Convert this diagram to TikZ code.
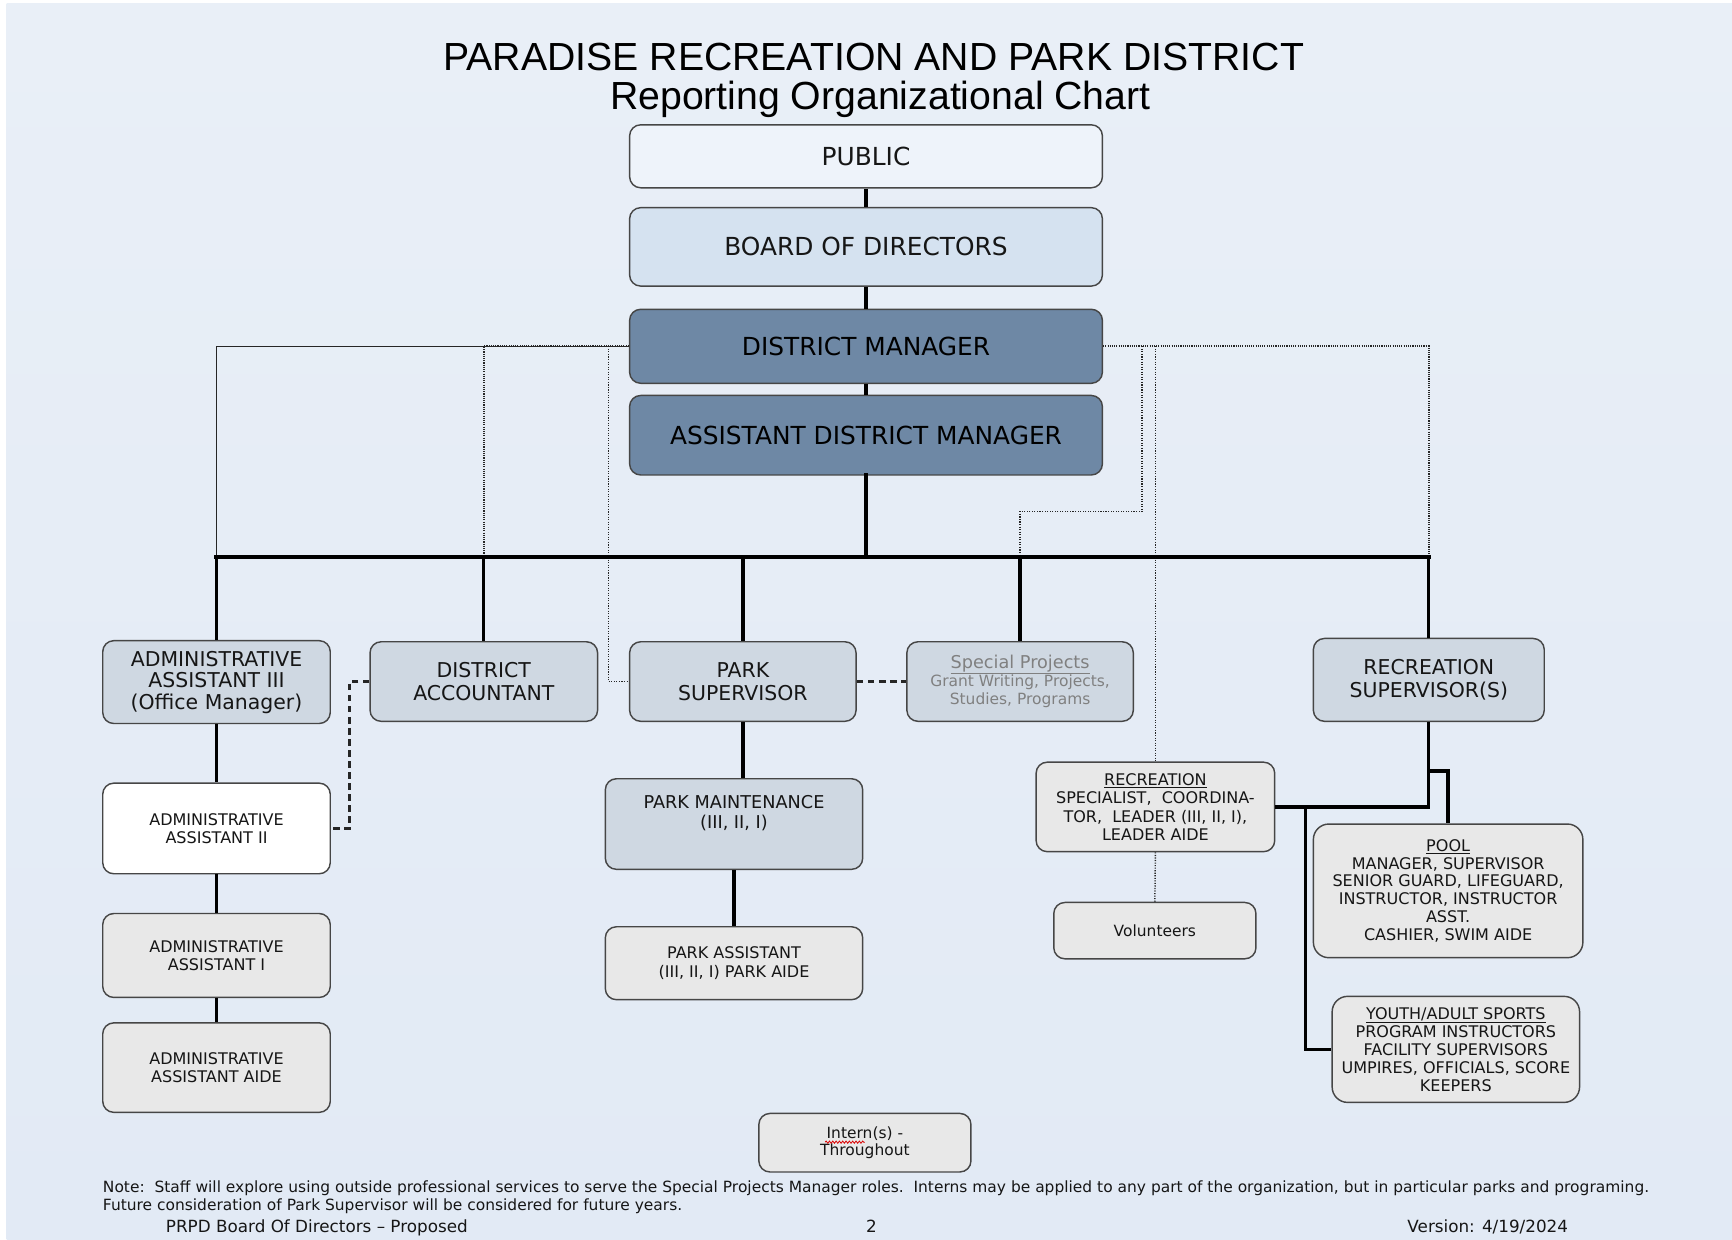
\documentclass[tikz,border=0pt]{standalone}
\usepackage{fontspec}
\setmainfont{DejaVu Sans}
\newfontfamily\titlefont{Liberation Sans}
\usetikzlibrary{decorations.pathmorphing}
\definecolor{bgtop}{RGB}{233,239,247}
\definecolor{bgmid}{RGB}{213,226,241}
\definecolor{bgbot}{RGB}{226,234,245}
\definecolor{boxline}{RGB}{70,70,70}
\definecolor{pubfill}{RGB}{238,243,250}
\definecolor{bodfill}{RGB}{213,226,240}
\definecolor{mgrfill}{RGB}{110,136,165}
\definecolor{lvlfill}{RGB}{207,216,226}
\definecolor{grayfill}{RGB}{232,232,232}
\definecolor{sptext}{RGB}{128,128,128}
\definecolor{textc}{RGB}{22,22,22}
\begin{document}
\begin{tikzpicture}[x=1pt,y=-1pt,
  box/.style={draw=boxline,line width=1.3pt,rounded corners=10pt,align=center,inner sep=2pt,text=textc},
  conn/.style={line width=3pt,black},
  busline/.style={line width=4pt,black,line cap=rect},
  dots/.style={line width=1.3pt,dash pattern=on 1pt off 1.3pt,black!85},
  densedots/.style={line width=1.5pt,dash pattern=on 1pt off 1pt,black!85},
  thinline/.style={line width=1pt,black!85},
  dashline/.style={line width=2pt,dash pattern=on 6pt off 4pt,black!85},
  bigtxt/.style={font=\fontsize{22.5}{26}\selectfont},
  midtxt/.style={font=\fontsize{18.5}{20.5}\selectfont},
  smtxt/.style={font=\fontsize{14.5}{16.6}\selectfont},
]
\useasboundingbox (0,0) rectangle (1568,1122);
\fill[white] (0,0) rectangle (1568,1122);
\shade[top color=bgtop,middle color=bgmid,bottom color=bgbot] (6,3) rectangle (1568,1122);

% title
\node[anchor=base,font=\titlefont\fontsize{35.5}{40}\selectfont] (title1) at (791,64) {PARADISE RECREATION AND PARK DISTRICT};
\node[anchor=base,font=\titlefont\fontsize{35.5}{40}\selectfont] (title2) at (797,99) {Reporting Organizational Chart};

% top boxes
\node[box,fill=pubfill,bigtxt,minimum width=428pt,minimum height=57pt] (pub) at (784,141.5) {PUBLIC};
\node[box,fill=bodfill,bigtxt,minimum width=428pt,minimum height=71pt] (bod) at (784,223.5) {BOARD OF DIRECTORS};
\node[box,fill=mgrfill,bigtxt,text=black,minimum width=428pt,minimum height=67pt] (dm) at (784,313.5) {DISTRICT MANAGER};
\node[box,fill=mgrfill,bigtxt,text=black,minimum width=428pt,minimum height=72pt] (adm) at (784,394) {ASSISTANT DISTRICT MANAGER};

% level 2
\node[box,fill=lvlfill,font=\fontsize{18.5}{19.5}\selectfont,minimum width=206pt,minimum height=75pt] (aa3) at (196,617.5) {ADMINISTRATIVE\\ASSISTANT III\\(Office Manager)};
\node[box,fill=lvlfill,midtxt,minimum width=206pt,minimum height=72pt] (da) at (438,617) {DISTRICT\\ACCOUNTANT};
\node[box,fill=lvlfill,midtxt,minimum width=205pt,minimum height=72pt] (ps) at (672.5,617) {PARK\\SUPERVISOR};
\node[box,fill=lvlfill,text=sptext,font=\fontsize{14}{16.5}\selectfont,minimum width=205pt,minimum height=72pt] (sp) at (923.5,617) {{\fontsize{16}{17}\selectfont\underline{Special Projects}}\\Grant Writing, Projects,\\Studies, Programs};
\node[box,fill=lvlfill,midtxt,minimum width=209pt,minimum height=75pt] (rs) at (1293.5,615.5) {RECREATION\\SUPERVISOR(S)};

% level 3 - admin column
\node[box,fill=white,smtxt,minimum width=206pt,minimum height=82pt] (aa2) at (196,750) {ADMINISTRATIVE\\ASSISTANT II};
\node[box,fill=grayfill,smtxt,minimum width=206pt,minimum height=76pt] (aa1) at (196,865) {ADMINISTRATIVE\\ASSISTANT I};
\node[box,fill=grayfill,smtxt,minimum width=206pt,minimum height=81pt] (aaa) at (196,966.5) {ADMINISTRATIVE\\ASSISTANT AIDE};

% park column
\node[box,fill=lvlfill,minimum width=233pt,minimum height=82pt] (pm) at (664.5,746) {};
\node[align=center,text=textc,font=\fontsize{16}{18}\selectfont] (pmtext) at (664.5,736) {PARK MAINTENANCE\\(III, II, I)};
\node[box,fill=grayfill,smtxt,minimum width=233pt,minimum height=66pt] (pa) at (664.5,872) {PARK ASSISTANT\\(III, II, I) PARK AIDE};

% recreation
\node[box,fill=grayfill,smtxt,minimum width=216pt,minimum height=81pt] (rec) at (1046,730.5) {\underline{RECREATION}\\SPECIALIST,~~COORDINA-\\TOR,~~LEADER (III, II, I),\\LEADER AIDE};
\node[box,fill=grayfill,font=\fontsize{14}{16}\selectfont,minimum width=183pt,minimum height=51pt] (vol) at (1045.5,842.5) {Volunteers};
\node[box,fill=grayfill,font=\fontsize{14.5}{16.2}\selectfont,minimum width=244pt,minimum height=121pt,rounded corners=14pt] (pool) at (1311,806.5) {\underline{POOL}\\MANAGER, SUPERVISOR\\SENIOR GUARD, LIFEGUARD,\\INSTRUCTOR, INSTRUCTOR\\ASST.\\CASHIER, SWIM AIDE};
\node[box,fill=grayfill,font=\fontsize{14.5}{16.3}\selectfont,minimum width=224pt,minimum height=96pt,rounded corners=14pt] (youth) at (1318,950) {\underline{YOUTH/ADULT SPORTS}\\PROGRAM INSTRUCTORS\\FACILITY SUPERVISORS\\UMPIRES, OFFICIALS, SCORE\\KEEPERS};

% intern
\node[box,fill=grayfill,font=\fontsize{14}{16}\selectfont,minimum width=192pt,minimum height=53pt] (intern) at (783,1034.5) {Intern(s) -\\Throughout};
\draw[red!85!black,line width=0.7pt,decorate,decoration={snake,amplitude=1pt,segment length=3pt}] (747,1034) -- (783,1034);

% coordinates
\coordinate (bus) at (784,504);
\coordinate (pd) at (551,313.5);
\coordinate (sd) at (1034,313.5);
\coordinate (sdb) at (1034,463);
\coordinate (rsj) at (1293.5,698);
\coordinate (yj) at (1182,730.5);

% dotted / thin reporting lines
\draw[thinline] (dm.west) -| (aa3.north |- bus);
\draw[densedots] (dm.west) -| (da.north |- bus);
\draw[dots] (pd) |- (ps.west);
\draw[densedots] (dm.east) -| (rs.north |- bus);
\draw[dots] (sd) -- (sdb) -| (sp.north |- bus);
\draw[dots] (rec.north |- dm.east) -- (rec.north);
\draw[dots] (rec.south) -- (vol.north);

% solid connectors
\draw[conn] (pub.south) -- (bod.north);
\draw[conn] (bod.south) -- (dm.north);
\draw[conn] (dm.south) -- (adm.north);
\draw[busline] (adm.south) -- (bus);
\draw[busline] (aa3.north |- bus) -- (rs.north |- bus);
\draw[conn] (aa3.north |- bus) -- (aa3.north);
\draw[conn] (da.north |- bus) -- (da.north);
\draw[conn] (ps.north |- bus) -- (ps.north);
\draw[conn] (sp.north |- bus) -- (sp.north);
\draw[conn] (rs.north |- bus) -- (rs.north);

\draw[conn] (aa3.south) -- (aa2.north);
\draw[conn] (aa2.south) -- (aa1.north);
\draw[conn] (aa1.south) -- (aaa.north);
\draw[conn] (ps.south) -- (ps.south |- pm.north);
\draw[conn] (pm.south) -- (pa.north);

\draw[conn] (rs.south) |- (rec.east);
\draw[conn] (rsj) -| (pool.north);
\draw[conn] (yj) |- (youth.west);

% dashed links
\draw[dashline] (ps.east) -- (sp.west);
\draw[dashline] (da.west) -- ++(-18,0) |- (aa2.east);

% notes
\node[anchor=base west,inner sep=0pt,text=textc,font=\fontsize{14}{16}\selectfont] (note1) at (93,1080) {Note:~~Staff will explore using outside professional services to serve the Special Projects Manager roles.~~Interns may be applied to any part of the organization, but in particular parks and programing.};
\node[anchor=base west,inner sep=0pt,text=textc,font=\fontsize{14}{16}\selectfont] (note2) at (93,1096) {Future consideration of Park Supervisor will be considered for future years.};
\node[anchor=base west,inner sep=0pt,text=textc,font=\fontsize{15.2}{16}\selectfont] (foot1) at (150,1116) {PRPD Board Of Directors – Proposed};
\node[anchor=base,inner sep=0pt,text=textc,font=\fontsize{15.2}{16}\selectfont] (foot2) at (789,1116) {2};
\node[anchor=base west,inner sep=0pt,text=textc,font=\fontsize{15.2}{16}\selectfont] (foot3) at (1274,1116) {Version: 4/19/2024};
\end{tikzpicture}
\end{document}
